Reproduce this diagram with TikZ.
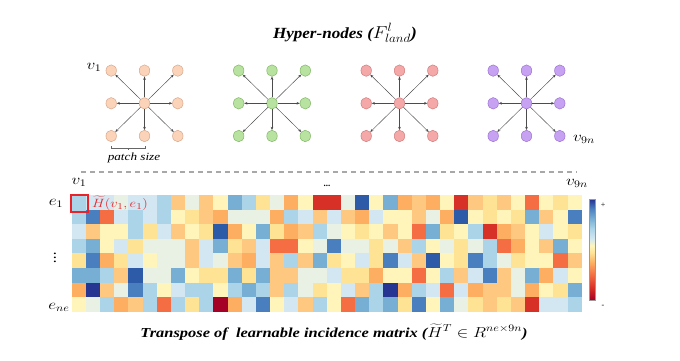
\documentclass[tikz,border=0pt]{standalone}
\usepackage{fontspec}
\setmainfont{Liberation Serif}
\usepackage{graphicx}
\usetikzlibrary{arrows.meta,shapes.geometric}
\definecolor{hz}{HTML}{A50026}
\definecolor{ha}{HTML}{D73027}
\definecolor{hb}{HTML}{F46D43}
\definecolor{hc}{HTML}{FDAE61}
\definecolor{hd}{HTML}{FEC880}
\definecolor{he}{HTML}{FEE394}
\definecolor{hf}{HTML}{FFF5BA}
\definecolor{hg}{HTML}{E8F1E3}
\definecolor{hh}{HTML}{D2E7F2}
\definecolor{hi}{HTML}{ABD4E8}
\definecolor{hj}{HTML}{77AED4}
\definecolor{hk}{HTML}{4A7FBF}
\definecolor{hl}{HTML}{2D5BA8}
\definecolor{hm}{HTML}{263592}
\definecolor{pk}{HTML}{FBD3B8}
\definecolor{pkd}{HTML}{D8A88C}
\definecolor{gr}{HTML}{B8E2A0}
\definecolor{grd}{HTML}{82B866}
\definecolor{rd}{HTML}{F5A8A8}
\definecolor{rdd}{HTML}{D27C7C}
\definecolor{pu}{HTML}{C7A2F2}
\definecolor{pud}{HTML}{9C72D2}
\definecolor{redlbl}{HTML}{E8242A}
\definecolor{dashgray}{HTML}{A8A8A8}
\pgfdeclareverticalshading{cbar}{100bp}{color(0bp)=(hz); color(25bp)=(hz); color(31bp)=(ha); color(37.5bp)=(hb); color(43.5bp)=(hc); color(48.5bp)=(he); color(52bp)=(hf); color(55.5bp)=(hh); color(60.5bp)=(hi); color(65.5bp)=(hj); color(70.5bp)=(hk); color(75bp)=(hm); color(100bp)=(hm)}
\newcommand{\sx}[1]{\scalebox{1.2}[1]{#1}}
\newcommand{\sxt}[1]{\scalebox{1.1}[1]{#1}}
\begin{document}
\begin{tikzpicture}[x=1pt,y=-1pt,
  hn/.style={ellipse, minimum width=10.5pt, minimum height=11.5pt, inner sep=0pt, line width=0.5pt},
  arr/.style={-{Stealth[length=3.2pt,width=2.6pt]}, draw=black!70, line width=0.45pt},
  lbl/.style={inner sep=0pt},
  mlbl/.style={inner sep=0pt, font=\fontsize{14}{16}\selectfont}]
\useasboundingbox (0,0) rectangle (680,360);
\fill[white] (0,0) rectangle (680,360);

% title
\node[lbl] (title) at (345,33) {\sxt{\fontsize{15.5}{18}\selectfont\bfseries\itshape Hyper-nodes (\fontsize{16.5}{18}\selectfont$F^{l}_{land}$)}};

% hyper-node groups
\foreach \g/\cx/\fc/\dc in {1/144.5/pk/pkd,2/272/gr/grd,3/399.5/rd/rdd,4/526.5/pu/pud}{
  \foreach \i in {0,1,2}{
    \foreach \j in {0,1,2}{
      \node[hn, fill=\fc, draw=\dc] (g\g-\i\j) at ({\cx+33.3*(\i-1)},{103.3+32.7*(\j-1)}) {};
    }
  }
  \foreach \i/\j in {0/0,1/0,2/0,0/1,2/1,0/2,1/2,2/2}
    \draw[arr] (g\g-11) -- (g\g-\i\j);
}

\node[mlbl] (v1top) at (94,67) {\sx{$v_1$}};
\node[mlbl] (v9ntop) at (584,139) {\sx{$v_{9n}$}};

% patch size bracket
\coordinate (psa) at (111.7,148);
\coordinate (psb) at (145.7,148);
\coordinate (psm) at (128.7,148);
\draw[black!60, line width=0.5pt] (psa) ++(0,-2) -- (psa) -- (psb) -- ++(0,-2);
\draw[black!60, line width=0.5pt] (psm) -- ++(0,2);
\node[lbl] (ps) at (134,158) {\sx{\fontsize{11}{12}\selectfont\itshape patch size}};

% dashed separator
\coordinate (dla) at (81,172);
\coordinate (dlb) at (577,172);
\draw[dashgray, line width=1.3pt, dash pattern=on 5pt off 4pt] (dla) -- (dlb);

% matrix
\foreach \row [count=\r from 0] in {
 {i,h,h,g,h,h,i,d,g,d,f,j,i,e,g,c,f,a,a,g,l,f,j,c,d,c,f,a,d,e,d,f,b,f,e,f},
 {i,k,b,h,i,h,i,f,e,d,c,g,g,g,c,i,h,d,h,d,c,h,f,f,d,g,c,l,f,e,f,e,j,d,f,k},
 {h,d,f,f,i,e,h,d,f,e,l,c,f,j,e,c,d,i,g,f,e,f,d,f,b,j,e,f,i,a,c,d,f,h,f,e},
 {i,j,f,h,e,g,g,g,d,h,j,e,d,h,b,b,f,g,k,g,g,e,g,d,i,f,g,e,g,i,b,c,f,d,j,f},
 {e,k,c,e,h,f,g,g,d,h,g,d,c,h,d,i,d,j,e,f,h,e,k,h,d,l,f,e,k,i,g,e,f,f,b,d},
 {j,j,i,d,l,g,g,j,f,e,e,j,e,j,d,d,g,g,h,e,e,c,f,f,b,f,i,d,h,k,d,g,j,c,h,f},
 {c,m,d,g,k,i,f,h,i,i,f,i,j,i,d,i,g,e,f,h,d,i,m,c,i,h,b,h,c,d,d,g,c,f,e,j},
 {f,g,i,c,d,i,b,i,e,i,z,c,h,k,f,h,d,i,f,b,j,i,j,e,k,f,j,g,e,d,e,d,a,h,h,i}}{
  \foreach \c [count=\k from 0] in \row {
    \fill[h\c] ({71.7+14.17*\k},{195+14.6*\r}) rectangle ++(14.17,14.6);
  }
}

% highlight box and label
\node[draw=redlbl, line width=2pt, minimum width=17pt, minimum height=16.7pt, inner sep=0pt] (hbox) at (79.5,203.3) {};
\node[lbl, anchor=west, text=redlbl, font=\fontsize{13}{14}\selectfont] (hlbl) at (92,203) {\sx{$\widetilde{H}(v_1,e_1)$}};

% axis labels
\node[mlbl] (v1m) at (79,182) {\sx{$v_1$}};
\node[lbl, font=\fontsize{9}{10}\selectfont\bfseries] (dots) at (327,186) {...};
\node[mlbl] (v9nm) at (577,183) {\sx{$v_{9n}$}};
\node[mlbl] (e1) at (56,203) {\sx{$e_1$}};
\node[mlbl] (vd) at (55,255) {\sx{\boldmath$\vdots$}};
\node[mlbl] (ene) at (59,307) {\sx{$e_{ne}$}};

% colorbar
\coordinate (cba) at (589,199.5);
\coordinate (cbb) at (595,300);
\shade[shading=cbar] (cba) rectangle (cbb);
\draw[black!40, line width=0.4pt] (cba) rectangle (cbb);
\node[lbl, font=\fontsize{8}{8}\selectfont] (plus) at (603,205) {+};
\node[lbl, font=\fontsize{8}{8}\selectfont] (minus) at (603,306) {-};

% caption
\node[lbl] (caption) at (334,332) {\sx{\fontsize{13.7}{15}\selectfont\bfseries\itshape Transpose of~ learnable incidence matrix ($\widetilde{H}^{T} \in R^{ne\times 9n}$)}};
\end{tikzpicture}
\end{document}
